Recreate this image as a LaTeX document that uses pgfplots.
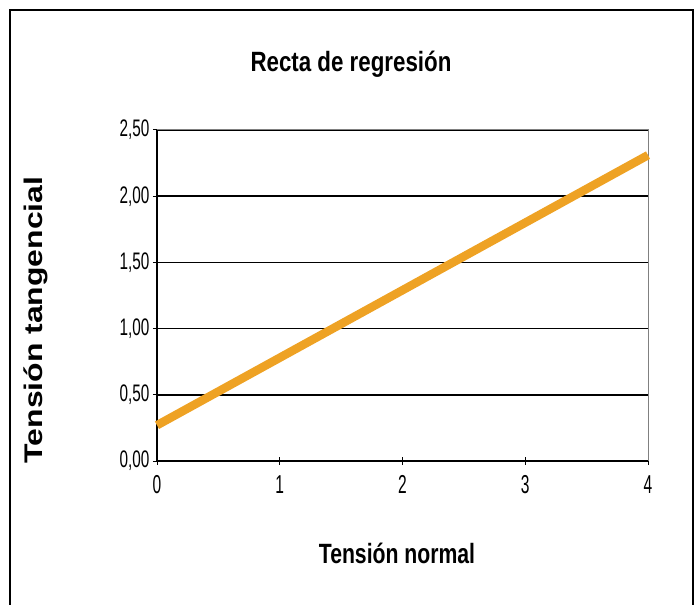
\documentclass[border=0pt]{standalone}
\usepackage{pgfplots}
\pgfplotsset{compat=1.18}
\usepackage{fontspec}
\setmainfont{Liberation Sans}
\definecolor{lineorange}{RGB}{238,162,36}
\begin{document}
\begin{tikzpicture}[x=1bp,y=1bp]
\useasboundingbox (-157,-144) rectangle (541,461);
\begin{axis}[
  at={(0,0)}, anchor=origin,
  scale only axis, width=491bp, height=331bp,
  xmin=0, xmax=4, ymin=0, ymax=2.5,
  axis lines=left, axis line style={-, black, line width=1.5pt},
  xtick={0,1,2,3,4}, ytick={0,0.5,1,1.5,2,2.5},
  xticklabels={0,1,2,3,4},
  yticklabels={{0,00},{0,50},{1,00},{1,50},{2,00},{2,50}},
  /pgf/number format/assume math mode=true,
  tick align=center, major tick length=8bp,
  tick style={black, line width=1pt},
  ymajorgrids, grid style={black, line width=1.5pt},
  yticklabel style={font=\fontsize{24}{26}\selectfont, xscale=0.64, xshift=-2bp},
  xticklabel style={font=\fontsize{26}{28}\selectfont, xscale=0.6, yshift=-7bp},
  clip=false,
]
\draw[gray, line width=1pt] (rel axis cs:1,0) -- (rel axis cs:1,1) -- (rel axis cs:0,1);
\addplot[lineorange, line width=8.5bp, no marks] coordinates {(0,0.27) (4,2.31)};
\end{axis}
\draw[black, line width=1.5bp] (-147,-144) -- (-147,451) -- (536,451) -- (536,-144);
\node[font=\bfseries\fontsize{28}{32}\selectfont, xscale=0.8] at (194,397) {Recta de regresión};
\node[font=\bfseries\fontsize{28}{32}\selectfont, xscale=0.76] at (240,-92) {Tensión normal};
\node[rotate=90] at (-121,141) {\scalebox{1}[0.8]{\bfseries\fontsize{32}{36}\selectfont Tensión tangencial}};
\end{tikzpicture}
\end{document}
